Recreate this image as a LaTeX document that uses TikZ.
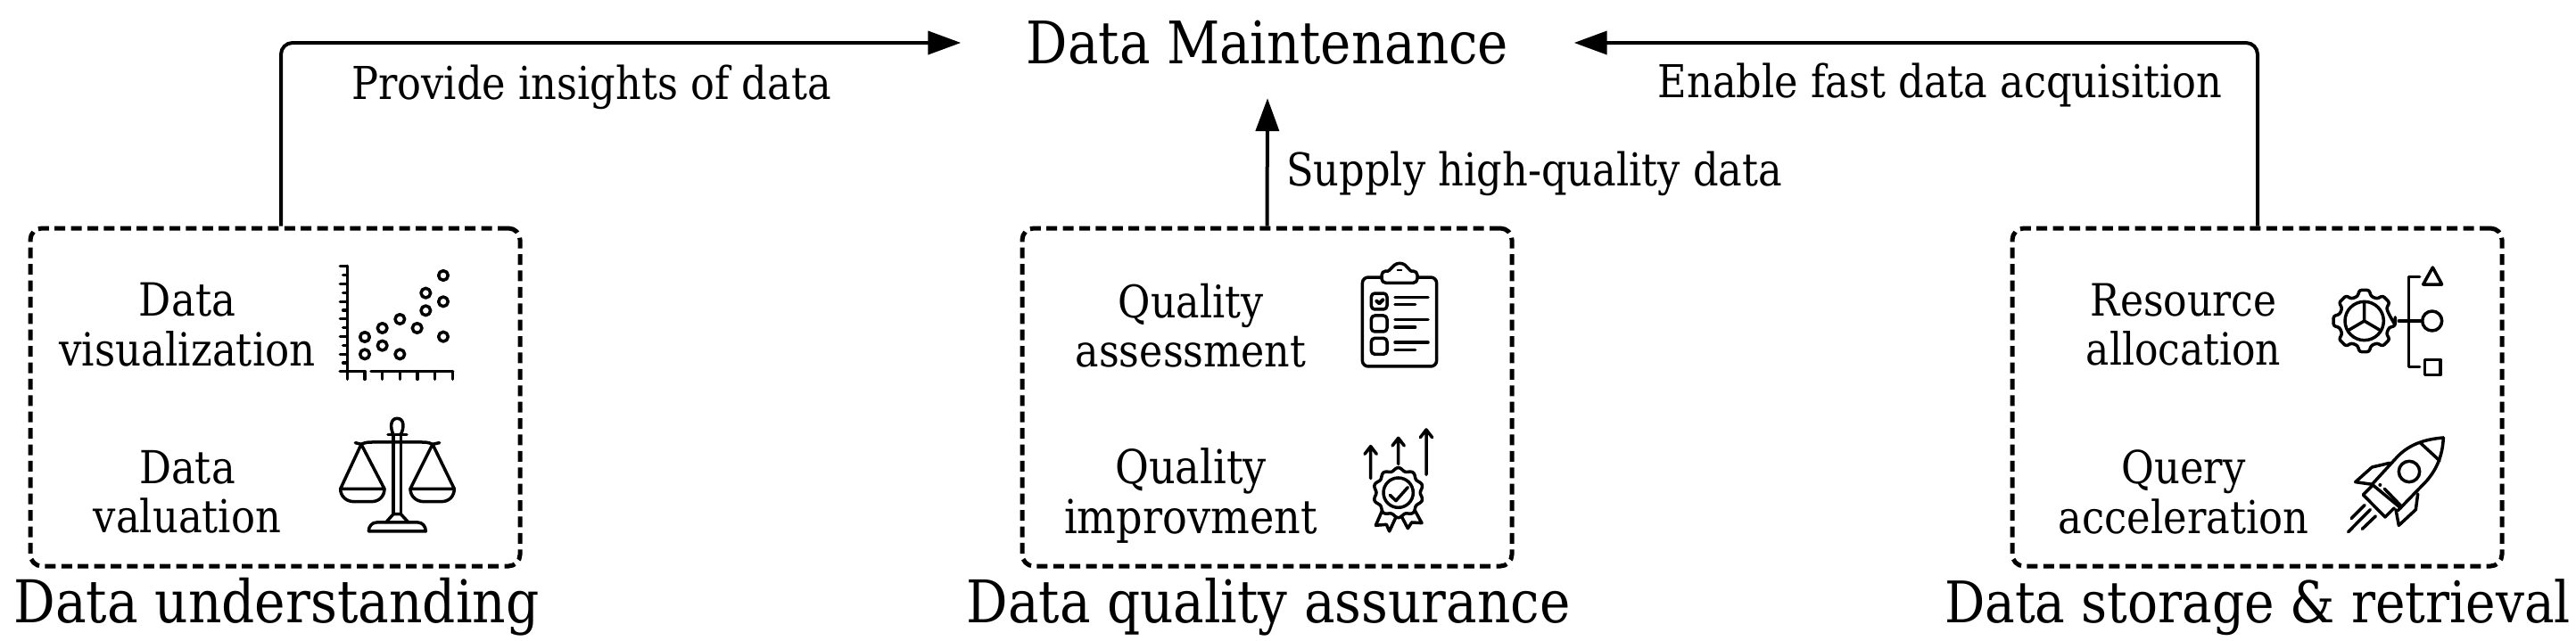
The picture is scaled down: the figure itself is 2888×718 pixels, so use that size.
\documentclass[tikz,border=0pt]{standalone}
\usepackage{fontspec}
\setmainfont{DejaVu Serif}[FakeStretch=0.88]
\usetikzlibrary{arrows.meta}
\tikzset{
  x=1pt,y=-1pt,
  groupbox/.style={draw,line width=5pt,dash pattern=on 12pt off 6.4pt,rounded corners=13pt,minimum width=549pt,minimum height=379pt,inner sep=0pt},
  conn/.style={draw,line width=4pt,rounded corners=13pt,-{Triangle[length=37pt,width=26pt]}},
  titlenode/.style={minimum width=687pt,minimum height=124pt,inner sep=0pt,font=\fontsize{65.8}{70}\selectfont},
  edgelabel/.style={inner sep=0pt,font=\fontsize{50.8}{56}\selectfont},
  grouplabel/.style={inner sep=0pt,font=\fontsize{#1}{70}\selectfont},
  itemlabel/.style={inner sep=0pt,align=center,font=\fontsize{#1}{55.5}\selectfont},
  itemlabel/.default=51,
  ico/.style={line width=3.5pt,line cap=round,line join=round},
}
\begin{document}
\begin{tikzpicture}
\useasboundingbox[fill=white] (0,0) rectangle (2888,718);
\node[titlenode] (title) at (1421,48) {Data Maintenance};
\node[groupbox] (box1) at (308.5,445.5) {};
\node[groupbox] (box2) at (1420.5,445.5) {};
\node[groupbox] (box3) at (2530.5,445.5) {};
\draw[conn] ([xshift=6.5pt]box1.north) |- (title.west);
\draw[conn] ([xshift=0.5pt]box3.north) |- (title.east);
\draw[conn] (box2.north) -- (title.south);
\node[edgelabel] (l1) at (663,98) {Provide insights of data};
\node[edgelabel] (l2) at (2175,95) {Enable fast data acquisition};
\node[edgelabel,anchor=west] (l3) at (1442,195) {Supply high-quality data};
\node[grouplabel=66.2] (g1) at (310,681) {Data understanding};
\node[grouplabel=66] (g2) at (1422,681) {Data quality assurance};
\node[grouplabel=64.3] (g3) at (2531,681) {Data storage \& retrieval};
\node[itemlabel=51.3] (t1) at (210,364) {Data\\visualization};
\node[itemlabel] (t2) at (210,552) {Data\\valuation};
\node[itemlabel=50.4] (t3) at (1335,365) {Quality\\assessment};
\node[itemlabel=52.5] (t4) at (1335,556) {Quality\\improvment};
\node[itemlabel=50] (t5) at (2448,364) {Resource\\allocation};
\node[itemlabel] (t6) at (2448,552) {Query\\acceleration};
% scatter + scales
\begin{scope}[shift={(360,280)},x=0.3333pt,y=-0.3333pt,ico]
 \draw (88,55)--(88,410);
 \foreach \y in {55,115,175,233,293,352,410}{\draw (64,\y)--(88,\y);}
 \foreach \y in {85,145,204,263,322,381}{\draw (74,\y)--(88,\y);}
 \draw (64,410)--(148,410) (168,410)--(443,410);
 \foreach \x in {88,147,206,265,324,383,442}{\draw (\x,410)--(\x,436);}
 \foreach \p in {(147,294),(147,352),(206,264),(206,323),(265,234),(265,352),(323,264),(352,146),(352,205),(411,87),(411,175),(411,293)}{\draw \p circle (16);}
 \draw (243,890)--(243,628) (268,628)--(268,890);
 \draw (243,622) .. controls (232,600) and (232,568) .. (256,568) .. controls (280,568) and (280,600) .. (268,622);
 \draw (225,622)--(288,622);
 \draw (115,650) -- (135,655) .. controls (150,648) and (160,648) .. (175,648) -- (335,648) .. controls (350,648) and (360,648) .. (375,655) -- (398,650);
 \draw (135,655)--(65,805)--(213,805)--(135,655);
 \draw (65,805) .. controls (65,830) and (85,848) .. (110,848) -- (170,848) .. controls (195,848) and (213,830) .. (213,805);
 \draw (375,655)--(300,805)--(448,805)--(375,655);
 \draw (300,805) .. controls (300,830) and (320,848) .. (345,848) -- (405,848) .. controls (430,848) and (448,830) .. (448,805);
 \draw (243,890)--(268,890) (243,890)--(218,918) (268,890)--(294,918);
 \draw (160,948)--(352,948) .. controls (352,930) and (340,918) .. (325,918) -- (187,918) .. controls (172,918) and (160,930) .. (160,948);
\end{scope}
% clipboard + medal
\begin{scope}[shift={(1510,280)},x=0.3333pt,y=-0.3333pt,ico]
 \draw[rounded corners=20pt/3] (117,93) -- (52,93) -- (52,393) -- (302,393) -- (302,93) -- (237,93);
 \draw[rounded corners=14pt/3] (140,72) -- (117,72) -- (117,112) -- (237,112) -- (237,72) -- (215,72);
 \draw (140,72) -- (160,52) .. controls (170,44) and (186,44) .. (196,52) -- (215,72);
 \draw[line width=1.8pt] (170,70)--(184,70);
 \foreach \y in {147,222,298}{\draw[rounded corners=12pt/3] (82,\y) rectangle (135,\y+54);}
 \foreach \y in {160,236,312}{\draw (162,\y)--(273,\y) (162,\y+25)--(230,\y+25);}
 \draw[line width=4pt] (100,173)--(109,181)--(121,169);
 \draw (80,770)--(80,662) (60,688)--(80,662)--(100,688);
 \draw (173,722)--(173,634) (153,660)--(173,634)--(193,660);
 \draw (267,757)--(267,606) (247,632)--(267,606)--(287,632);
 \draw plot[domain=0:360,samples=145,smooth] ({173+(79+5*cos(10*\x))*cos(\x+90)},{818-(79+5*cos(10*\x))*sin(\x+90)}) -- cycle;
 \draw (173,818) circle (50);
 \draw (145,826)--(165,845)--(205,800);
 \draw (118,880)--(97,928)--(133,925)--(143,948)--(165,900);
 \draw (230,880)--(252,920)--(218,918)--(205,938)--(185,900);
\end{scope}
% gear + rocket
\begin{scope}[shift={(2600,280)},x=0.3333pt,y=-0.3333pt,ico]
 \draw[rounded corners=7pt/3] (152+105*cos 8,240+105*sin 8)
   \foreach \a in {0,45,...,315}{
     -- ({152+105*cos(\a-9)},{240+105*sin(\a-9)}) -- ({152+105*cos(\a+9)},{240+105*sin(\a+9)})
     -- ({152+86*cos(\a+15)},{240+86*sin(\a+15)}) -- ({152+86*cos(\a+30)},{240+86*sin(\a+30)})
   } -- cycle;
 \draw (152,240) circle (65);
 \draw (152,240)--(152,178) (152,240)--(101,270) (152,240)--(203,270);
 \draw (338,92)--(302,92)--(302,395)--(338,395);
 \draw (268,240)--(340,240);
 \draw (382,60)--(350,117)--(413,117)--cycle;
 \draw (380,240) circle (33);
 \draw (355,370) rectangle (408,422);
 \draw (418,633) .. controls (355,638) and (305,655) .. (265,695) -- (178,790);
 \draw (418,633) .. controls (415,695) and (395,740) .. (360,780) -- (265,878);
 \draw (340,650)--(405,710);
 \draw (303,747) circle (35);
 \draw (238,718)--(178,732)--(122,782)--(178,790);
 \draw (332,822)--(325,875)--(268,928)--(258,875);
 \draw (178,795)--(148,825)--(222,900)--(252,870);
 \draw (178,790)--(275,870);
 \draw (220,805)--(275,862);
 \fill (205,792) circle (6);
 \draw (108,905)--(153,860) (98,950)--(172,875) (145,940)--(190,897);
\end{scope}
\end{tikzpicture}
\end{document}
